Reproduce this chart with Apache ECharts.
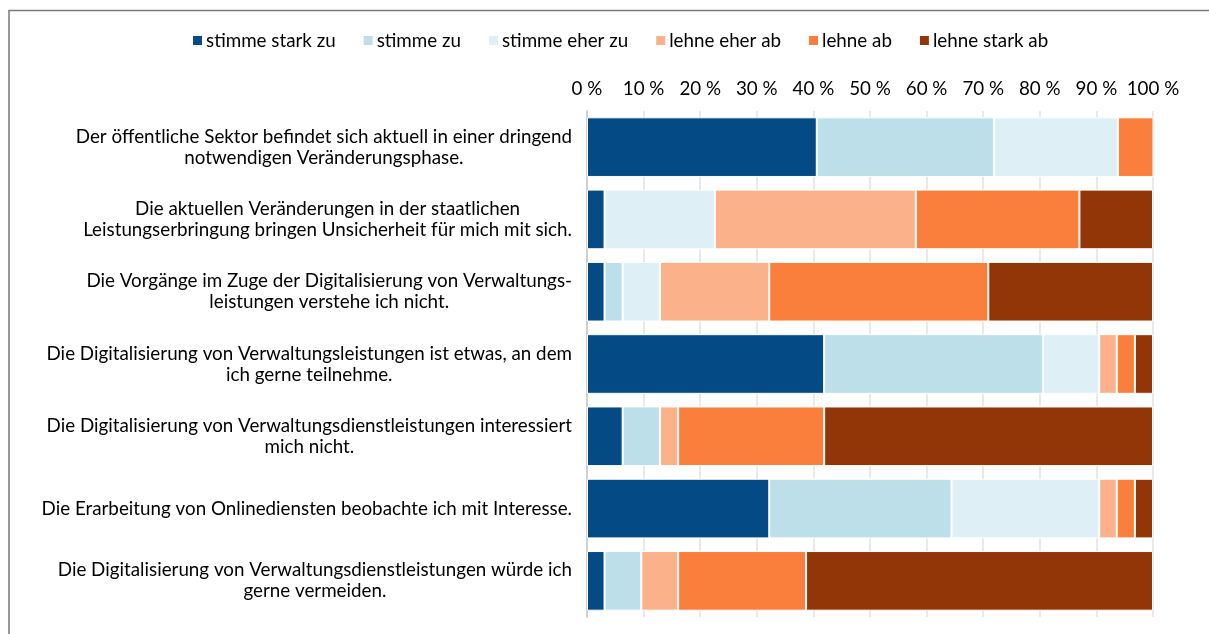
<!DOCTYPE html>
<html>
<head>
<meta charset="utf-8">
<script src="https://cdn.jsdelivr.net/npm/echarts@6/dist/echarts.min.js"></script>
<style>
  html, body { margin: 0; padding: 0; background: #fff; }
  #chart { width: 1209px; height: 634px; }
</style>
</head>
<body>
<div id="chart"></div>
<script>
// statements, top to bottom
const statements = [
  'Der öffentliche Sektor befindet sich aktuell in einer dringend\nnotwendigen Veränderungsphase.',
  'Die aktuellen Veränderungen in der staatlichen\nLeistungserbringung bringen Unsicherheit für mich mit sich.',
  'Die Vorgänge im Zuge der Digitalisierung von Verwaltungs-\nleistungen verstehe ich nicht.',
  'Die Digitalisierung von Verwaltungsleistungen ist etwas, an dem\nich gerne teilnehme.',
  'Die Digitalisierung von Verwaltungsdienstleistungen interessiert\nmich nicht.',
  'Die Erarbeitung von Onlinediensten beobachte ich mit Interesse.',
  'Die Digitalisierung von Verwaltungsdienstleistungen würde ich\ngerne vermeiden.'
];

const answerNames = ['stimme stark zu', 'stimme zu', 'stimme eher zu', 'lehne eher ab', 'lehne ab', 'lehne stark ab'];
const answerColors = ['#044a85', '#bcdfe9', '#def0f6', '#fbb28a', '#fa7f3c', '#933607'];

// shares in percent, one array per answer
const stimmeStarkZu = [40.6, 3.1, 3.1, 41.9, 6.3, 32.2, 3.1];
const stimmeZu      = [31.3, 0, 3.2, 38.7, 6.6, 32.2, 6.5];
const stimmeEherZu  = [21.9, 19.5, 6.6, 9.9, 0, 26.1, 0];
const lehneEherAb   = [0, 35.5, 19.3, 3.1, 3.2, 3.1, 6.5];
const lehneAb       = [6.3, 28.9, 38.7, 3.2, 25.8, 3.2, 22.6];
const lehneStarkAb  = [0, 13.0, 29.1, 3.2, 58.1, 3.2, 61.3];

const allValues = [stimmeStarkZu, stimmeZu, stimmeEherZu, lehneEherAb, lehneAb, lehneStarkAb];

const FONT = 'Lato';
const FS = 18.8;

const chart = echarts.init(document.getElementById('chart'));

const series = answerNames.map((name, i) => ({
  name: name,
  type: 'bar',
  stack: 'total',
  barCategoryGap: '17.5%',
  itemStyle: {
    color: answerColors[i],
    borderColor: '#ffffff',
    borderWidth: 1
  },
  emphasis: { disabled: true },
  data: allValues[i]
}));

chart.setOption({
  animation: false,
  textStyle: { fontFamily: FONT },
  legend: {
    top: 31,
    left: 191,
    padding: 0,
    icon: 'rect',
    itemWidth: 11,
    itemHeight: 11,
    itemGap: 26,
    textStyle: { fontFamily: FONT, fontSize: FS, color: '#000', padding: [0, 0, 0, -2] },
    data: answerNames
  },
  grid: {
    left: 587,
    right: 56,
    top: 111,
    bottom: 17,
    containLabel: false
  },
  xAxis: {
    type: 'value',
    position: 'top',
    min: 0,
    max: 100,
    interval: 10,
    axisLine: { show: false },
    axisTick: { show: false },
    axisLabel: {
      formatter: '{value} %',
      fontFamily: FONT,
      fontSize: FS,
      color: '#000',
      margin: 13
    },
    splitLine: { show: true, lineStyle: { color: '#e2e2e2', width: 1.5 } }
  },
  yAxis: {
    type: 'category',
    inverse: true,
    data: statements,
    axisLine: { show: true, lineStyle: { color: '#d0d0d0', width: 2 } },
    axisTick: { show: false },
    axisLabel: {
      margin: 15,
      align: 'right',
      formatter: (v) => v.split('\n').map(l => '{c|' + l + '}').join('\n'),
      rich: {
        c: {
          fontFamily: FONT,
          fontSize: FS,
          lineHeight: 21,
          color: '#000',
          align: 'center'
        }
      }
    }
  },
  graphic: [
    {
      type: 'polyline',
      silent: true,
      shape: { points: [[9, 634], [9, 10.5], [1209, 10.5]] },
      style: { stroke: '#7a7a7a', lineWidth: 1.5, fill: null }
    }
  ],
  series: series
});

window.addEventListener('resize', () => {
  chart.resize();
});
</script>
</body>
</html>
